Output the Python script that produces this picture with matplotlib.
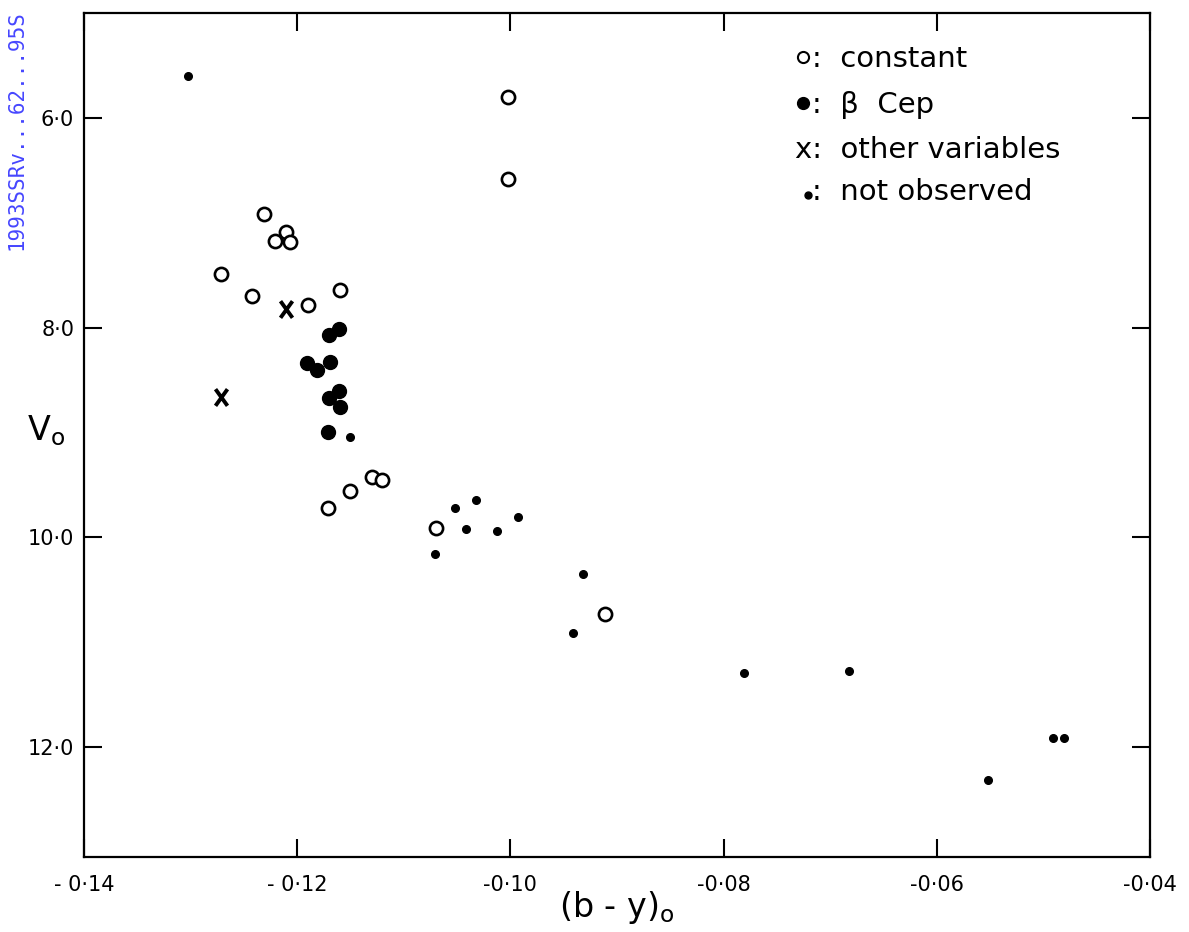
import matplotlib
matplotlib.use("Agg")
import matplotlib.pyplot as plt
from matplotlib.path import Path

# (b-y)o and Vo values
const_by = [-0.1002, -0.1002, -0.1231, -0.1210, -0.1221, -0.1207, -0.1271, -0.1242,
            -0.1190, -0.1160, -0.1130, -0.1120, -0.1150, -0.1171, -0.1070, -0.0911]
const_v = [5.80, 6.585, 6.916, 7.091, 7.174, 7.181, 7.491, 7.696,
           7.789, 7.646, 9.423, 9.454, 9.556, 9.718, 9.915, 10.736]

bcep_by = [-0.1161, -0.1170, -0.1191, -0.1181, -0.1169, -0.1161, -0.1170, -0.1160, -0.1171]
bcep_v = [8.016, 8.071, 8.335, 8.405, 8.325, 8.605, 8.675, 8.755, 8.999]

other_by = [-0.1210, -0.1271]
other_v = [7.825, 8.665]

nobs_by = [-0.1302, -0.1150, -0.1052, -0.1032, -0.1042, -0.1013, -0.0993, -0.1071,
           -0.0932, -0.0941, -0.0781, -0.0682, -0.0552, -0.0491, -0.0481]
nobs_v = [5.60, 9.047, 9.724, 9.648, 9.925, 9.938, 9.810, 10.157,
          10.348, 10.917, 11.299, 11.274, 12.317, 11.916, 11.916]

xticks = [-0.14, -0.12, -0.10, -0.08, -0.06, -0.04]
xticklabels = ["- 0·14", "- 0·12", "-0·10", "-0·08", "-0·06", "-0·04"]
yticks = [6.0, 8.0, 10.0, 12.0]
yticklabels = ["6·0", "8·0", "10·0", "12·0"]

# tall "X" like the typed letter in the original
xmark = Path([(-0.36, -0.5), (0.36, 0.5), (-0.36, 0.5), (0.36, -0.5)],
             [Path.MOVETO, Path.LINETO, Path.MOVETO, Path.LINETO])

fig = plt.figure(figsize=(11.89, 9.32), dpi=100)
ax = fig.add_axes([0.0706, 0.0805, 0.8966, 0.9055])

ax.plot(const_by, const_v, "o", ms=9.5, mfc="white", mec="black", mew=1.9, ls="none")
ax.plot(bcep_by, bcep_v, "o", ms=10, color="black", ls="none")
ax.plot(other_by, other_v, marker=xmark, ms=12, color="black", mew=2.8, ls="none")
ax.plot(nobs_by, nobs_v, "o", ms=5.5, color="black", ls="none")

ax.set_xlim(-0.14, -0.04)
ax.set_ylim(13.05, 5.0)

ax.set_xticks(xticks)
ax.set_xticklabels(xticklabels)
ax.set_yticks(yticks)
ax.set_yticklabels(yticklabels)
ax.tick_params(direction="in", length=13, width=1.5, top=True, right=True,
               labelsize=15)
ax.tick_params(axis="x", pad=13)
ax.tick_params(axis="y", pad=7)
for s in ax.spines.values():
    s.set_linewidth(1.6)

ax.set_xlabel(r"(b - y)$_\mathregular{o}$", fontsize=24, labelpad=-4)
fig.text(27 / 1189, 1 - 440 / 932, r"V$_\mathregular{o}$", fontsize=24)

# legend drawn as text with markers
tr = fig.transFigure
W, H = 1189, 932
ax.plot([803 / W], [1 - 57 / H], "o", ms=8, mfc="white", mec="black", mew=1.5,
        transform=tr, clip_on=False)
ax.plot([803 / W], [1 - 103 / H], "o", ms=8.5, color="black", transform=tr, clip_on=False)
ax.plot([808 / W], [1 - 195 / H], "o", ms=5, color="black", transform=tr, clip_on=False)
fig.text(812 / W, 1 - 67 / H, ":  constant", fontsize=21)
fig.text(812 / W, 1 - 113 / H, ":  β  Cep", fontsize=21)
fig.text(795 / W, 1 - 158 / H, "x:  other variables", fontsize=21)
fig.text(812 / W, 1 - 200 / H, ":  not observed", fontsize=21)

fig.text(17 / W, 1 - 130 / H, "1993SSRv...62...95S", rotation=90, color="#4646ff",
         family="DejaVu Sans Mono", fontsize=15, ha="center", va="center")

fig.savefig("out.png", dpi=100)
